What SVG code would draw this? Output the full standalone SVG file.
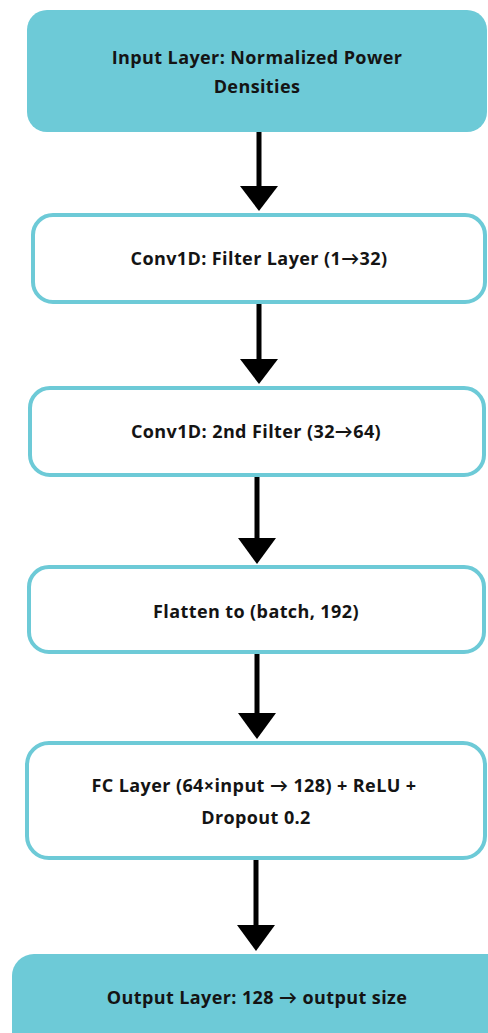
<svg xmlns="http://www.w3.org/2000/svg" width="488" height="1033" viewBox="0 0 488 1033">
<style>
.fill{fill:#6dcad7;stroke:none}
.out{fill:#ffffff;stroke:#6dcad7;stroke-width:4}
.t{font-family:"Open Sans","Lato",sans-serif;font-weight:bold;font-size:18px;letter-spacing:0.4px;fill:#141414;text-anchor:middle;dominant-baseline:central}
.c{stroke:#000;stroke-width:5;fill:none}
.h{fill:#000}
</style>
<rect width="488" height="1033" fill="#ffffff"/>
<g id="n1"><rect class="fill" x="27" y="10" width="460" height="122" rx="20"/>
<text class="t" x="257" y="57">Input Layer: Normalized Power</text>
<text class="t" x="257" y="86">Densities</text></g>
<g id="n2"><rect class="out" x="33" y="215" width="452" height="87" rx="20"/>
<text class="t" x="259" y="258">Conv1D: Filter Layer (1→32)</text></g>
<g id="n3"><rect class="out" x="30" y="388" width="454" height="87" rx="20"/>
<text class="t" x="256" y="431">Conv1D: 2nd Filter (32→64)</text></g>
<g id="n4"><rect class="out" x="29" y="567" width="455" height="85" rx="20"/>
<text class="t" x="256" y="611">Flatten to (batch, 192)</text></g>
<g id="n5"><rect class="out" x="27" y="743" width="458" height="115" rx="22"/>
<text class="t" x="254" y="785">FC Layer (64×input → 128) + ReLU +</text>
<text class="t" x="256" y="817">Dropout 0.2</text></g>
<g id="n6"><rect class="fill" x="12" y="954" width="500" height="110" rx="22"/>
<text class="t" x="257" y="997">Output Layer: 128 → output size</text></g>
<g id="connectors">
<line class="c" x1="259" y1="132" x2="259" y2="187"/><polygon class="h" points="240,186 278,186 259,211"/>
<line class="c" x1="259" y1="304" x2="259" y2="360"/><polygon class="h" points="240,359 278,359 259,384"/>
<line class="c" x1="257" y1="477" x2="257" y2="539"/><polygon class="h" points="238,538 276,538 257,564"/>
<line class="c" x1="257" y1="654" x2="257" y2="714"/><polygon class="h" points="238,713 276,713 257,739"/>
<line class="c" x1="256" y1="860" x2="256" y2="926"/><polygon class="h" points="237,925 275,925 256,951"/>
</g>
</svg>
